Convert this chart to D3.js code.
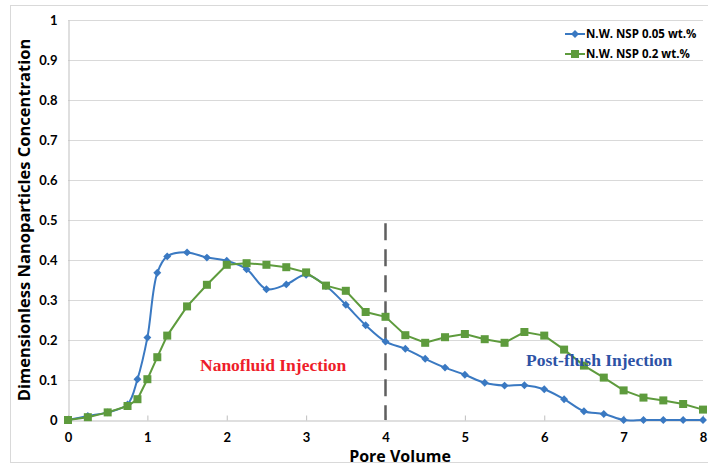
<!DOCTYPE html>
<html>
<head>
<meta charset="utf-8">
<script src="https://cdn.jsdelivr.net/npm/d3@7"></script>
<style>
  body { margin: 0; background: #fff; }
  svg { display: block; font-family: "Open Sans", Lato, sans-serif; }
</style>
</head>
<body>
<svg id="chart" width="708" height="466"></svg>
<script>
// pore volume (x) and the two measured series
const poreVolume = [0, 0.25, 0.5, 0.75, 0.875, 1, 1.125, 1.25, 1.5, 1.75, 2,
  2.25, 2.5, 2.75, 3, 3.25, 3.5, 3.75, 4, 4.25, 4.5, 4.75, 5, 5.25, 5.5, 5.75, 6,
  6.25, 6.5, 6.75, 7, 7.25, 7.5, 7.75, 8];
const nsp005 = [0, 0.01, 0.019, 0.039, 0.102, 0.206, 0.368, 0.409, 0.419, 0.406, 0.398,
  0.377, 0.327, 0.339, 0.363, 0.335, 0.288, 0.237, 0.196, 0.178, 0.153, 0.131, 0.113, 0.093, 0.086, 0.087, 0.077,
  0.052, 0.022, 0.015, 0, 0, 0, 0, 0];
const nsp02 = [0, 0.007, 0.019, 0.035, 0.052, 0.102, 0.157, 0.211, 0.284, 0.338, 0.388,
  0.392, 0.388, 0.382, 0.369, 0.336, 0.323, 0.27, 0.258, 0.212, 0.193, 0.207, 0.215, 0.202, 0.193, 0.22, 0.211,
  0.176, 0.136, 0.106, 0.074, 0.056, 0.049, 0.04, 0.026];
const seriesNames = ['N.W. NSP 0.05 wt.%', 'N.W. NSP 0.2 wt.%'];
const xTicks = [0, 1, 2, 3, 4, 5, 6, 7, 8];
const yTicks = [0, 0.1, 0.2, 0.3, 0.4, 0.5, 0.6, 0.7, 0.8, 0.9, 1];
const switchPV = 4;       // injection -> post-flush
const dashTop = 0.492;

const svg = d3.select('#chart');
const blue = '#3a79c2';
const green = '#5e9b3d';

// outer chart border
svg.append('rect')
  .attr('x', 10.5).attr('y', 5.5)
  .attr('width', 708).attr('height', 457)
  .attr('fill', 'none').attr('stroke', '#d9d9d9');

const x = d3.scaleLinear().domain([0, 8]).range([68, 703]);
const y = d3.scaleLinear().domain([0, 1]).range([420, 20]);

// gridlines
svg.append('g')
  .selectAll('line')
  .data(yTicks.slice(1))
  .join('line')
  .attr('x1', x(0)).attr('x2', x(8))
  .attr('y1', d => Math.round(y(d)) + 0.5).attr('y2', d => Math.round(y(d)) + 0.5)
  .attr('stroke', '#d9d9d9');

// y axis
const yAxis = svg.append('g')
  .attr('transform', `translate(${x(0) + 0.5},0)`)
  .call(d3.axisLeft(y).tickValues(yTicks).tickSize(0).tickPadding(11)
    .tickFormat(d => d3.format('')(+d.toFixed(1))));
yAxis.select('.domain').attr('stroke', '#bfbfbf');
yAxis.selectAll('text')
  .attr('font-family', 'Lato, sans-serif')
  .attr('font-size', 13).attr('font-weight', 'bold').attr('fill', '#000');

// x axis
const xAxis = svg.append('g')
  .attr('transform', `translate(0,${y(0) + 0.5})`)
  .call(d3.axisBottom(x).tickValues(xTicks).tickSize(-5).tickPadding(12)
    .tickFormat(d3.format('d')));
xAxis.select('.domain').attr('stroke', '#bfbfbf');
xAxis.selectAll('.tick line').attr('stroke', '#bfbfbf');
xAxis.selectAll('text')
  .attr('font-family', 'Lato, sans-serif')
  .attr('font-size', 13).attr('font-weight', 'bold').attr('fill', '#000');

// axis titles
svg.append('text')
  .attr('transform', `translate(30,220) rotate(-90)`)
  .attr('text-anchor', 'middle')
  .attr('font-size', 16.5).attr('font-weight', 'bold')
  .text('Dimensionless Nanoparticles Concentration');

svg.append('text')
  .attr('x', 400).attr('y', 462)
  .attr('text-anchor', 'middle')
  .attr('font-size', 16).attr('font-weight', 'bold')
  .text('Pore Volume');

// dashed divider between injection and post-flush
svg.append('line')
  .attr('x1', x(switchPV)).attr('x2', x(switchPV))
  .attr('y1', y(dashTop)).attr('y2', y(0))
  .attr('stroke', '#5f5f5f').attr('stroke-width', 2.5)
  .attr('stroke-dasharray', '17,9');

// series
const blueData = poreVolume.map((p, i) => [p, nsp005[i]]);
const greenData = poreVolume.map((p, i) => [p, nsp02[i]]);

const smooth = d3.line().x(d => x(d[0])).y(d => y(d[1])).curve(d3.curveCatmullRom.alpha(0.5));
const straight = d3.line().x(d => x(d[0])).y(d => y(d[1]));

svg.append('path')
  .datum(blueData)
  .attr('d', smooth)
  .attr('fill', 'none').attr('stroke', blue).attr('stroke-width', 2);

svg.append('path')
  .datum(greenData)
  .attr('d', straight)
  .attr('fill', 'none').attr('stroke', green).attr('stroke-width', 2);

const diamond = d3.symbol().type(d3.symbolDiamond2).size(40);

svg.append('g')
  .selectAll('path')
  .data(blueData)
  .join('path')
  .attr('d', diamond)
  .attr('transform', d => `translate(${x(d[0])},${y(d[1])})`)
  .attr('fill', blue);

svg.append('g')
  .selectAll('rect')
  .data(greenData)
  .join('rect')
  .attr('x', d => x(d[0]) - 4).attr('y', d => y(d[1]) - 4)
  .attr('width', 8).attr('height', 8)
  .attr('fill', green);

// region labels
svg.append('text')
  .attr('x', 200).attr('y', 371)
  .attr('font-family', '"Liberation Serif", "Times New Roman", serif')
  .attr('font-size', 17.5).attr('font-weight', 'bold')
  .attr('fill', '#ee1d2a')
  .text('Nanofluid Injection');

svg.append('text')
  .attr('x', 526).attr('y', 366)
  .attr('font-family', '"Liberation Serif", "Times New Roman", serif')
  .attr('font-size', 17.5).attr('font-weight', 'bold')
  .attr('fill', '#2d52a5')
  .text('Post-flush Injection');

// legend
const legend = svg.append('g').attr('transform', 'translate(565,0)');
const legendRows = [
  { name: seriesNames[0], color: blue, y: 34, marker: 'diamond' },
  { name: seriesNames[1], color: green, y: 54, marker: 'square' }
];
legendRows.forEach(r => {
  legend.append('line')
    .attr('x1', 0).attr('x2', 20).attr('y1', r.y).attr('y2', r.y)
    .attr('stroke', r.color).attr('stroke-width', 2);
  if (r.marker === 'diamond') {
    legend.append('path').attr('d', diamond)
      .attr('transform', `translate(10,${r.y})`).attr('fill', r.color);
  } else {
    legend.append('rect').attr('x', 6).attr('y', r.y - 4)
      .attr('width', 8).attr('height', 8).attr('fill', r.color);
  }
  legend.append('text')
    .attr('x', 21).attr('y', r.y + 4)
    .attr('font-size', 11.5).attr('font-weight', 'bold')
    .text(r.name);
});
</script>
</body>
</html>
